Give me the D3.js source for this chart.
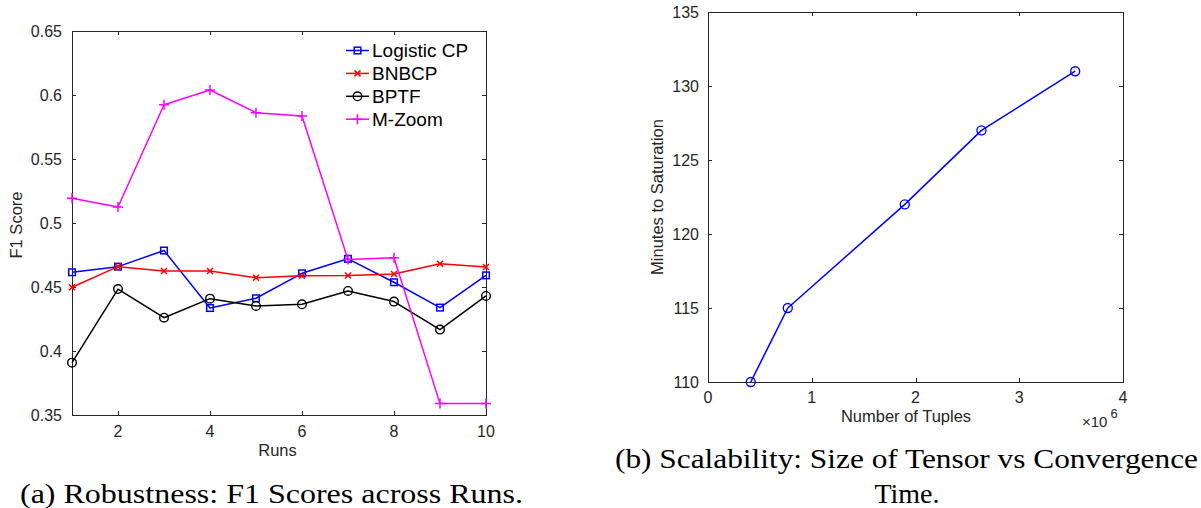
<!DOCTYPE html>
<html>
<head>
<meta charset="utf-8">
<script src="https://cdn.jsdelivr.net/npm/d3@7"></script>
<style>
html,body{margin:0;padding:0;background:#fff;}
svg{display:block;}
</style>
</head>
<body>
<svg id="chart" width="1201" height="508"></svg>
<script>
// ---------- Data ----------
const runs = [1, 2, 3, 4, 5, 6, 7, 8, 9, 10];
const logisticCP = [0.4615, 0.4659, 0.4785, 0.4336, 0.4412, 0.4607, 0.472, 0.4537, 0.4339, 0.4591];
const bnbcp      = [0.4498, 0.4659, 0.4625, 0.4625, 0.4573, 0.4588, 0.459, 0.4602, 0.4682, 0.4656];
const bptf       = [0.3909, 0.4484, 0.426, 0.4409, 0.4352, 0.4365, 0.4469, 0.4386, 0.4167, 0.443];
const mzoom      = [0.5193, 0.5125, 0.5924, 0.6039, 0.5862, 0.5836, 0.4714, 0.4729, 0.3589, 0.3589];
const seriesNames = ["Logistic CP", "BNBCP", "BPTF", "M-Zoom"];
const yTicksA = [0.35, 0.4, 0.45, 0.5, 0.55, 0.6, 0.65];
const xTicksA = [2, 4, 6, 8, 10];

const tuples  = [0.412e6, 0.769e6, 1.897e6, 2.636e6, 3.539e6];
const minutes = [110, 115, 122, 127, 131];
const yTicksB = [110, 115, 120, 125, 130, 135];
const xTicksB = [0, 1e6, 2e6, 3e6, 4e6];

// ---------- Setup ----------
const svg = d3.select("#chart");
const AX = "#262626";
const SANS = "'Liberation Sans', Arial, sans-serif";
const SERIF = "'Liberation Serif', 'Times New Roman', serif";

function box(g, x0, x1, y0, y1) {
  g.append("rect").attr("x", x0).attr("y", y0).attr("width", x1 - x0).attr("height", y1 - y0)
    .attr("fill", "none").attr("stroke", AX).attr("stroke-width", 1);
}

// ---------- Chart A ----------
const A = {l: 72, r: 486, t: 31, b: 415};
const xA = d3.scaleLinear().domain([1, 10]).range([A.l, A.r]);
const yA = d3.scaleLinear().domain([0.35, 0.65]).range([A.b, A.t]);
const gA = svg.append("g");

// ticks (inward on all sides)
const tl = 4;
xTicksA.forEach(v => {
  const x = Math.round(xA(v)) + 0.5;
  gA.append("line").attr("x1", x).attr("x2", x).attr("y1", A.b).attr("y2", A.b - tl).attr("stroke", AX);
  gA.append("line").attr("x1", x).attr("x2", x).attr("y1", A.t).attr("y2", A.t + tl).attr("stroke", AX);
  gA.append("text").attr("x", xA(v)).attr("y", 437).attr("text-anchor", "middle")
    .attr("font-family", SANS).attr("font-size", 16).attr("fill", AX).text(d3.format("d")(v));
});
yTicksA.forEach(v => {
  const y = Math.round(yA(v)) + 0.5;
  gA.append("line").attr("x1", A.l).attr("x2", A.l + tl).attr("y1", y).attr("y2", y).attr("stroke", AX);
  gA.append("line").attr("x1", A.r).attr("x2", A.r - tl).attr("y1", y).attr("y2", y).attr("stroke", AX);
  gA.append("text").attr("x", 62).attr("y", yA(v) + 5.5).attr("text-anchor", "end")
    .attr("font-family", SANS).attr("font-size", 16).attr("fill", AX).text(String(v));
});
box(gA, A.l + 0.5, A.r + 0.5, A.t + 0.5, A.b + 0.5);

gA.append("text").attr("x", 277.5).attr("y", 456).attr("text-anchor", "middle")
  .attr("font-family", SANS).attr("font-size", 16.5).attr("fill", AX).text("Runs");
gA.append("text").attr("transform", "translate(22,225) rotate(-90)").attr("text-anchor", "middle")
  .attr("font-family", SANS).attr("font-size", 16.5).attr("fill", AX).text("F1 Score");

// marker drawers
function drawMarker(g, type, x, y, color) {
  if (type === "square") {
    g.append("rect").attr("x", x - 3.3).attr("y", y - 3.3).attr("width", 6.6).attr("height", 6.6)
      .attr("fill", "none").attr("stroke", color).attr("stroke-width", 1.5);
  } else if (type === "x") {
    const s = 3;
    g.append("path").attr("d", `M${x - s},${y - s}L${x + s},${y + s}M${x - s},${y + s}L${x + s},${y - s}`)
      .attr("stroke", color).attr("stroke-width", 1.5).attr("fill", "none");
  } else if (type === "circle") {
    g.append("circle").attr("cx", x).attr("cy", y).attr("r", 4.3)
      .attr("fill", "none").attr("stroke", color).attr("stroke-width", 1.4);
  } else if (type === "plus") {
    const s = 5;
    g.append("path").attr("d", `M${x - s},${y}L${x + s},${y}M${x},${y - s}L${x},${y + s}`)
      .attr("stroke", color).attr("stroke-width", 1.5).attr("fill", "none");
  }
}

const seriesA = [
  {name: seriesNames[0], values: logisticCP, color: "#0000ff", marker: "square"},
  {name: seriesNames[1], values: bnbcp, color: "#ff0000", marker: "x"},
  {name: seriesNames[2], values: bptf, color: "#000000", marker: "circle"},
  {name: seriesNames[3], values: mzoom, color: "#ff00ff", marker: "plus"}
];
const lineA = d3.line().x((d, i) => xA(runs[i])).y(d => yA(d));
seriesA.forEach(s => {
  gA.append("path").datum(s.values).attr("d", lineA).attr("fill", "none")
    .attr("stroke", s.color).attr("stroke-width", 1.5).attr("stroke-linejoin", "round");
  s.values.forEach((v, i) => drawMarker(gA, s.marker, xA(runs[i]), yA(v), s.color));
});

// legend
seriesA.forEach((s, i) => {
  const y = 50.5 + i * 22.9;
  gA.append("line").attr("x1", 346).attr("x2", 369).attr("y1", y).attr("y2", y)
    .attr("stroke", s.color).attr("stroke-width", 1.5);
  drawMarker(gA, s.marker, 357.5, y, s.color);
  gA.append("text").attr("x", 372).attr("y", y + 6.8).attr("font-family", SANS)
    .attr("font-size", 19).attr("fill", "#000").text(s.name);
});

// caption A
svg.append("text").attr("x", 20).attr("y", 503).attr("font-family", SERIF).attr("font-size", 28)
  .attr("textLength", 503).attr("lengthAdjust", "spacingAndGlyphs").attr("fill", "#000")
  .text("(a) Robustness: F1 Scores across Runs.");

// ---------- Chart B ----------
const B = {l: 708, r: 1123, t: 12, b: 382};
const xB = d3.scaleLinear().domain([0, 4e6]).range([B.l, B.r]);
const yB = d3.scaleLinear().domain([110, 135]).range([B.b, B.t]);
const gB = svg.append("g");

xTicksB.forEach(v => {
  const x = Math.round(xB(v)) + 0.5;
  gB.append("line").attr("x1", x).attr("x2", x).attr("y1", B.b).attr("y2", B.b - tl).attr("stroke", AX);
  gB.append("line").attr("x1", x).attr("x2", x).attr("y1", B.t).attr("y2", B.t + tl).attr("stroke", AX);
  gB.append("text").attr("x", xB(v)).attr("y", 403).attr("text-anchor", "middle")
    .attr("font-family", SANS).attr("font-size", 16).attr("fill", AX).text(String(v / 1e6));
});
yTicksB.forEach(v => {
  const y = Math.round(yB(v)) + 0.5;
  gB.append("line").attr("x1", B.l).attr("x2", B.l + tl).attr("y1", y).attr("y2", y).attr("stroke", AX);
  gB.append("line").attr("x1", B.r).attr("x2", B.r - tl).attr("y1", y).attr("y2", y).attr("stroke", AX);
  gB.append("text").attr("x", 699).attr("y", yB(v) + 5.5).attr("text-anchor", "end")
    .attr("font-family", SANS).attr("font-size", 16).attr("fill", AX).text(String(v));
});
box(gB, B.l + 0.5, B.r + 0.5, B.t + 0.5, B.b + 0.5);

gB.append("text").attr("x", 906).attr("y", 422).attr("text-anchor", "middle")
  .attr("font-family", SANS).attr("font-size", 16.5).attr("fill", AX).text("Number of Tuples");
gB.append("text").attr("transform", "translate(663,197) rotate(-90)").attr("text-anchor", "middle")
  .attr("font-family", SANS).attr("font-size", 16.5).attr("fill", AX).text("Minutes to Saturation");
const expT = gB.append("text").attr("x", 1082).attr("y", 427).attr("font-family", SANS)
  .attr("font-size", 15).attr("fill", AX);
expT.append("tspan").text("\u00d710");
expT.append("tspan").attr("dx", 3).attr("dy", -9).attr("font-size", 13).text("6");

const lineB = d3.line().x((d, i) => xB(tuples[i])).y(d => yB(d));
gB.append("path").datum(minutes).attr("d", lineB).attr("fill", "none")
  .attr("stroke", "#0000ff").attr("stroke-width", 1.5).attr("stroke-linejoin", "round");
minutes.forEach((v, i) => {
  gB.append("circle").attr("cx", xB(tuples[i])).attr("cy", yB(v)).attr("r", 4.5)
    .attr("fill", "none").attr("stroke", "#0000ff").attr("stroke-width", 1.4);
});

// caption B
svg.append("text").attr("x", 615).attr("y", 468).attr("font-family", SERIF).attr("font-size", 28)
  .attr("textLength", 583).attr("lengthAdjust", "spacingAndGlyphs").attr("fill", "#000")
  .text("(b) Scalability: Size of Tensor vs Convergence");
svg.append("text").attr("x", 907).attr("y", 503).attr("text-anchor", "middle").attr("font-family", SERIF)
  .attr("font-size", 28).attr("fill", "#000").text("Time.");
</script>
</body>
</html>
